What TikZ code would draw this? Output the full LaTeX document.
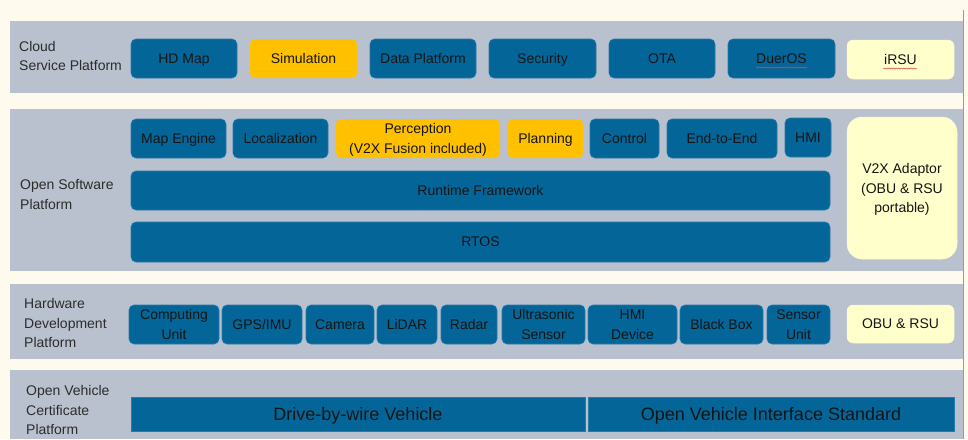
\documentclass[tikz,border=0pt]{standalone}
\usepackage{fontspec}
\usetikzlibrary{decorations.pathmorphing}
\setmainfont{Liberation Sans}
\definecolor{cream}{HTML}{FFFAEE}
\definecolor{band}{HTML}{B9C1CF}
\definecolor{blu}{HTML}{036598}
\definecolor{bluedge}{HTML}{2A7AA8}
\definecolor{yel}{HTML}{FFC000}
\definecolor{lyel}{HTML}{FFFFCC}
\definecolor{txt}{HTML}{151515}
\definecolor{squig}{HTML}{E04848}
\newcommand\bx[7]{\node[#2, minimum width={(#5-#3)*1pt}, minimum height={(#6-#4)*1pt}] (#1) at ({(#3+#5)/2},{(#4+#6)/2}) {#7};}
\tikzset{
  base/.style={inner sep=0pt, outer sep=0pt, align=center, text=txt, text depth=0pt, font=\fontsize{14}{19.5}\selectfont},
  bluebox/.style={base, fill=blu, draw=bluedge, line width=0.6pt, rounded corners=5pt},
  yelbox/.style={base, fill=yel, rounded corners=5pt},
  lyelbox/.style={base, fill=lyel, draw=lyel!90!band, line width=0.5pt, rounded corners=6pt},
  bandbox/.style={inner sep=0pt, outer sep=0pt, fill=band},
  barbox/.style={inner sep=0pt, outer sep=0pt, align=center, text=txt, text depth=0pt, fill=blu, draw=bluedge, line width=0.6pt, font=\fontsize{18}{22}\selectfont},
  bandlabel/.style={anchor=west, align=left, inner sep=0pt, text=txt!90!white, font=\fontsize{14}{19.8}\selectfont},
  squiggle/.style={draw=squig, line width=0.5pt, decorate, decoration={snake, amplitude=0.6pt, segment length=2.5pt}}
}
\begin{document}
\begin{tikzpicture}[x=1pt,y=-1pt]
\useasboundingbox (0,0) rectangle (968,439);
\fill[cream] (0,0) rectangle (968,439);
% bands
\bx{band1}{bandbox}{10}{21}{964}{93}{}
\bx{band2}{bandbox}{10}{109}{964}{271}{}
\bx{band3}{bandbox}{10}{284}{964}{359}{}
\bx{band4}{bandbox}{10}{370}{964}{439}{}
\draw[band!80!black, line width=0.6pt] (963,10) -- (963,439);
% band labels
\node[bandlabel] (l1) at (19,56) {Cloud\\Service Platform};
\node[bandlabel] (l2) at (20,194.5) {Open Software\\Platform};
\node[bandlabel] (l3) at (24,323) {Hardware\\Development\\Platform};
\node[bandlabel] (l4) at (26,410) {Open Vehicle\\Certificate\\Platform};
% cloud row
\bx{hdmap}{bluebox}{131}{39}{237}{78}{HD Map}
\bx{sim}{yelbox}{250}{39}{357}{78}{Simulation}
\bx{data}{bluebox}{370}{39}{476}{78}{Data Platform}
\bx{sec}{bluebox}{489}{39}{596}{78}{Security}
\bx{ota}{bluebox}{609}{39}{715}{78}{OTA}
\bx{duer}{bluebox}{728}{39}{835}{78}{DuerOS}
\bx{irsu}{lyelbox}{847}{40}{954}{79}{iRSU}
\coordinate (dq1) at (756,67.5);
\coordinate (dq2) at (807,67.5);
\coordinate (iq1) at (883,68.5);
\coordinate (iq2) at (917,68.5);
\draw[squiggle] (dq1) -- (dq2);
\draw[squiggle] (iq1) -- (iq2);
% software row
\bx{mapeng}{bluebox}{131}{119}{226}{158}{Map Engine}
\bx{loc}{bluebox}{233}{119}{328}{158}{Localization}
\bx{perc}{yelbox}{336}{119}{500}{158}{Perception\\(V2X Fusion included)}
\bx{plan}{yelbox}{508}{119}{583}{158}{Planning}
\bx{ctrl}{bluebox}{590}{119}{659}{158}{Control}
\bx{e2e}{bluebox}{667}{119}{777}{158}{End-to-End}
\bx{hmi}{bluebox}{785}{118}{831}{157}{HMI}
\bx{rt}{bluebox}{131}{171}{830}{210}{Runtime Framework}
\bx{rtos}{bluebox}{131}{222}{830}{262}{RTOS}
\bx{v2x}{lyelbox, rounded corners=15pt}{847}{117}{957}{259}{V2X Adaptor\\(OBU \& RSU\\portable)}
% hardware row
\bx{cu}{bluebox}{129}{305}{219}{344}{Computing\\Unit}
\bx{gps}{bluebox}{222}{305}{302}{344}{GPS/IMU}
\bx{cam}{bluebox}{306}{305}{374}{344}{Camera}
\bx{lidar}{bluebox}{377}{305}{437}{344}{LiDAR}
\bx{radar}{bluebox}{441}{305}{497}{344}{Radar}
\bx{ultra}{bluebox}{502}{305}{585}{344}{Ultrasonic\\Sensor}
\bx{hmid}{bluebox}{588}{305}{677}{344}{HMI\\Device}
\bx{bbox}{bluebox}{680}{305}{763}{344}{Black Box}
\bx{su}{bluebox}{767}{305}{830}{344}{Sensor\\Unit}
\bx{obu}{lyelbox}{847}{305}{954}{343}{OBU \& RSU}
% vehicle row
\bx{dbw}{barbox}{131}{397}{585}{431}{Drive-by-wire Vehicle}
\bx{ovis}{barbox}{588}{397}{954}{431}{Open Vehicle Interface Standard}
\end{tikzpicture}
\end{document}
